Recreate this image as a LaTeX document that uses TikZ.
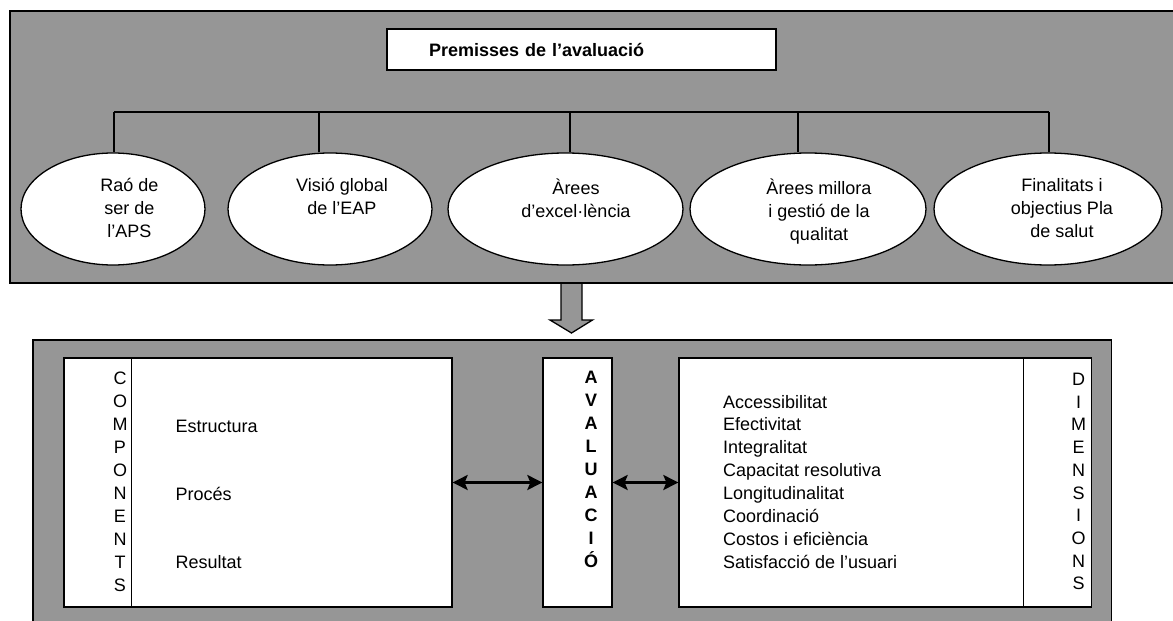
\documentclass[tikz,border=0pt]{standalone}
\usepackage{fontspec}
\setmainfont{Liberation Sans}
\usetikzlibrary{arrows.meta,shapes.geometric}
\definecolor{panelgray}{RGB}{150,150,150}
\begin{document}
\begin{tikzpicture}[
			x=1pt,y=-1pt,
			font=\fontsize{18}{23}\selectfont,
			line width=1.3pt,
			panel/.style={draw,fill=panelgray},
			whitebox/.style={draw,fill=white,inner sep=0pt},
			premisa/.style={ellipse,draw,fill=white,minimum height=112pt,inner sep=0pt},
			premisatext/.style={align=center,inner sep=0pt,anchor=north,execute at begin node={\rule{0pt}{18pt}}},
			lettercol/.style={anchor=base,inner sep=0pt},
			listitem/.style={anchor=base west,inner sep=0pt},
			biarrow/.style={{Stealth[length=15pt,width=15pt,inset=3pt]}-{Stealth[length=15pt,width=15pt,inset=3pt]},line width=2.6pt}
		]
		\useasboundingbox (0,0) rectangle (1173,621);
		\draw[panel] (561,283) -- (561,320) -- (550,320) -- (571.5,333) -- (592.5,320) -- (582,320) -- (582,283);
		\draw[panel] (10,11) rectangle (1190,283);
		\draw[panel] (33,340) rectangle (1111.5,640);
		\node[whitebox,minimum width=389pt,minimum height=41pt,text width=305pt,align=left,text height=13pt,text depth=0pt,font=\fontsize{18}{23}\selectfont\bfseries] (premisses) at (581.5,49.5) {Premisses de l’avaluació};
		\node[premisa,minimum width=184pt] (raons) at (113,209) {};
		\node[premisa,minimum width=204pt] (visio) at (330,209) {};
		\node[premisa,minimum width=235pt] (arees) at (565.5,209) {};
		\node[premisa,minimum width=236pt] (millora) at (808,209) {};
		\node[premisa,minimum width=228pt] (finalitats) at (1048,209) {};
		\coordinate (busleft) at (114,112);
		\coordinate (busright) at (1049,112);
		\draw (busleft) -- (busright);
		\foreach \n/\x in {raons/114,visio/319,arees/570,millora/798,finalitats/1049}{
				\coordinate (drop-\n) at (\x,112);
				\draw (drop-\n) -- (drop-\n |- \n.north);
			}
		\node[premisatext] (raons-text) at (129.5,178) {Raó de\\ser de\\l’APS};
		\node[premisatext] (visio-text) at (342,178) {Visió global\\de l’EAP};
		\node[premisatext] (arees-text) at (576,178) {Àrees\\d’excel·lència};
		\node[premisatext] (millora-text) at (819,178) {Àrees millora\\i gestió de la\\qualitat};
		\node[premisatext] (finalitats-text) at (1062,178) {Finalitats i\\objectius Pla\\de salut};
		\node[whitebox,minimum width=388pt,minimum height=249pt] (components) at (258,482.5) {};
		\node[whitebox,minimum width=69pt,minimum height=249pt] (avaluacio) at (577.5,482.5) {};
		\node[whitebox,minimum width=412.5pt,minimum height=249pt] (dimensions) at (885.25,482.5) {};
		\draw ([xshift=68pt]components.north west) -- ([xshift=68pt]components.south west);
		\draw ([xshift=-69pt]dimensions.north east) -- ([xshift=-69pt]dimensions.south east);
		\draw[biarrow] (components.east) -- (avaluacio.west);
		\draw[biarrow] (avaluacio.east) -- (dimensions.west);
		\foreach \l [count=\i from 0] in {C,O,M,P,O,N,E,N,T,S}
		\node[lettercol] (comp-\i) at (120,{384.5+\i*23}) {\l};
		\foreach \l [count=\i from 0] in {A,V,A,L,U,A,C,I,Ó}
		\node[lettercol,font=\fontsize{18}{23}\selectfont\bfseries] (aval-\i) at (591,{383.5+\i*23}) {\l};
		\foreach \l [count=\i from 0] in {D,I,M,E,N,S,I,O,N,S}
		\node[lettercol] (dim-\i) at (1078.5,{385.5+\i*22.7}) {\l};
		\foreach \t [count=\i from 0] in {Estructura,Procés,Resultat}
		\node[listitem] (comp-item-\i) at (175,{432.5+\i*68}) {\t};
		\foreach \t [count=\i from 0] in {Accessibilitat,Efectivitat,Integralitat,Capacitat resolutiva,Longitudinalitat,Coordinació,Costos i eficiència,Satisfacció de l’usuari}
		\node[listitem] (dim-item-\i) at (722.5,{408+\i*22.9}) {\t};
	\end{tikzpicture}
\end{document}
